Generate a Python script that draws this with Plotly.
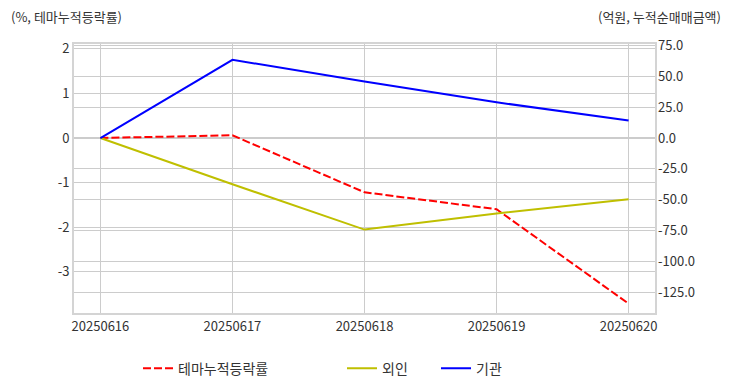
import plotly.graph_objects as go

dates = ["20250616", "20250617", "20250618", "20250619", "20250620"]
theme_cum = [0.0, 0.06, -1.22, -1.60, -3.72]
foreign_cum = [0.0, -37.5, -74.3, -61.2, -49.7]
inst_cum = [0.0, 63.5, 45.8, 29.0, 14.2]

left_ticks = [-3, -2, -1, 0, 1, 2]
left_labels = [str(v) for v in left_ticks]
right_ticks = [-125, -100, -75, -50, -25, 0, 25, 50, 75]
right_labels = [f"{v:.1f}" for v in right_ticks]

FONT = "Noto Sans CJK KR"
TXT = "#333333"
GRID = "#cccccc"
FS = 13

fig = go.Figure()
fig.add_trace(go.Scatter(x=dates, y=theme_cum, name="테마누적등락률", mode="lines",
                         line=dict(color="#ff0000", width=2, dash="8px,3px"),
                         yaxis="y", legend="legend"))
fig.add_trace(go.Scatter(x=dates, y=foreign_cum, name="외인", mode="lines",
                         line=dict(color="#bfbf00", width=2),
                         yaxis="y2", legend="legend2"))
fig.add_trace(go.Scatter(x=dates, y=inst_cum, name="기관", mode="lines",
                         line=dict(color="#0000ff", width=2),
                         yaxis="y2", legend="legend3"))

leg_common = dict(orientation="h", yanchor="middle", y=-0.207, xanchor="left",
                  font=dict(family=FONT, size=14, color=TXT), bgcolor="rgba(0,0,0,0)",
                  itemwidth=30)

fig.update_layout(
    width=732, height=392,
    margin=dict(l=74, r=77, t=44, b=79, autoexpand=False),
    paper_bgcolor="white", plot_bgcolor="white",
    font=dict(family=FONT, size=FS, color=TXT),
    showlegend=True,
    legend=dict(leg_common, x=(138 - 74) / 581),
    legend2=dict(leg_common, x=(342 - 74) / 581),
    legend3=dict(leg_common, x=(436 - 74) / 581),
    xaxis=dict(type="category", range=[-0.2, 4.2], showgrid=True, gridcolor=GRID, gridwidth=1,
               showline=True, linecolor="#d4d4d4", linewidth=2, mirror=True, automargin=False,
               ticks="", tickfont=dict(family=FONT, size=FS, color=TXT), zeroline=False),
    yaxis=dict(range=[-3.93, 2.11], tickvals=left_ticks, ticktext=left_labels, showgrid=True,
               gridcolor=GRID, gridwidth=1, zeroline=False, showline=True, linecolor="#d4d4d4",
               linewidth=2, mirror=True, ticks="", ticklabelstandoff=0, automargin=False,
               tickfont=dict(family=FONT, size=FS, color=TXT)),
    yaxis2=dict(range=[-142, 76.3], tickvals=right_ticks, ticktext=right_labels, overlaying="y",
                side="right", showgrid=True, gridcolor=GRID, gridwidth=1, zeroline=False,
                ticks="", ticklabelstandoff=2, automargin=False,
                tickfont=dict(family=FONT, size=FS, color=TXT)),
    annotations=[
        dict(text="(%, 테마누적등락률)", xref="paper", yref="paper", x=-(74 - 9) / 581,
             xanchor="left", y=1 + (44 - 16) / 269, yanchor="middle", showarrow=False,
             font=dict(family=FONT, size=FS, color=TXT)),
        dict(text="(억원, 누적순매매금액)", xref="paper", yref="paper", x=1 + (723 - 655) / 581,
             xanchor="right", y=1 + (44 - 16) / 269, yanchor="middle", showarrow=False,
             font=dict(family=FONT, size=FS, color=TXT)),
    ],
)

fig.write_html("out.html", config={"displayModeBar": False},
               post_script="document.body.style.margin='0';")
